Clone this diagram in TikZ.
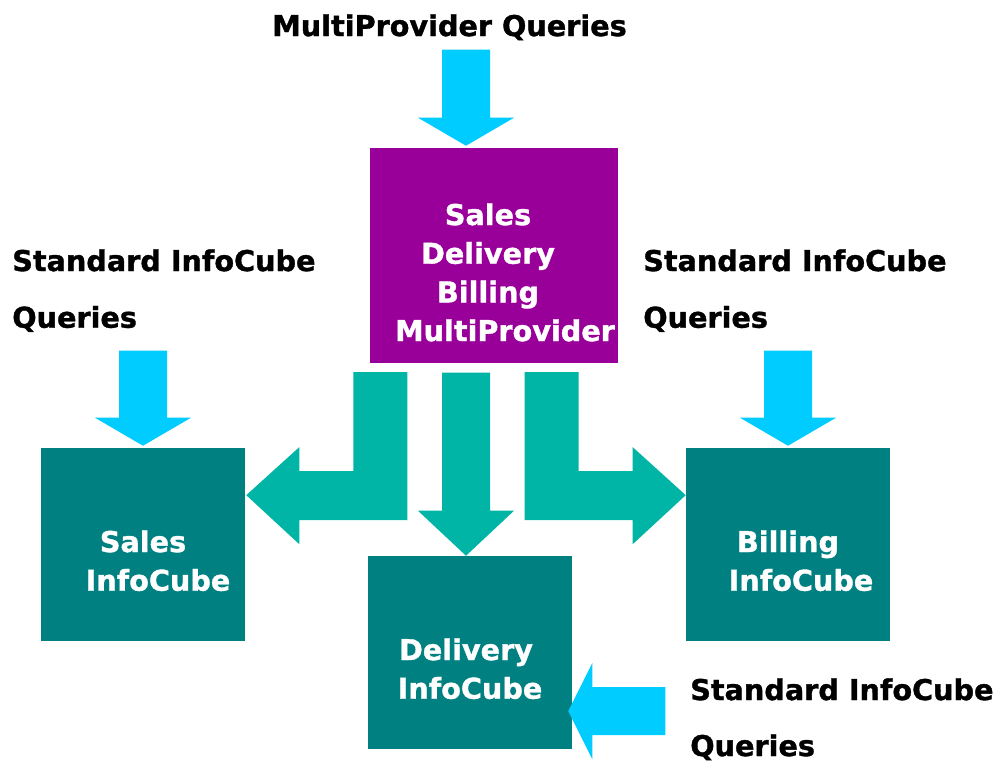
\documentclass[tikz,border=0pt]{standalone}
\usepackage{fontspec}
\setmainfont{DejaVu Sans}[BoldFeatures={FakeBold=1.2}]
\definecolor{mppurple}{HTML}{990099}
\definecolor{cubeteal}{HTML}{008080}
\definecolor{flowteal}{HTML}{00B5A5}
\definecolor{querycyan}{HTML}{00CCFF}
\begin{document}
\begin{tikzpicture}[x=0.75pt,y=-0.75pt,
    cube/.style={inner sep=0pt,fill=cubeteal,minimum width=153pt,minimum height=144.75pt},
    cubetxt/.style={inner sep=0pt,anchor=north,align=center,text=white,
                    font=\bfseries\fontsize{21.5}{29}\selectfont},
    qlabel/.style={inner sep=0pt,anchor=north west,align=left,
                   font=\bfseries\fontsize{21.5}{42.5}\selectfont},
    query/.style={fill=querycyan},
    flow/.style={fill=flowteal}]
  \useasboundingbox (0,0) rectangle (996,764);
  % provider boxes
  \node[cube,fill=mppurple,minimum width=186pt,minimum height=161.25pt] (mp) at (494,255.5) {};
  \node[cube] (sales) at (143,544.5) {};
  \node[cube] (deliv) at (470,652.5) {};
  \node[cube] (bill)  at (788,544.5) {};
  \node[cubetxt] (mptxt) at (488,203) {Sales\\Delivery\\Billing\\\hspace*{25.5pt}MultiProvider};
  \node[cubetxt] (salestxt) at (143,530) {Sales\\\hspace*{22.5pt}InfoCube};
  \node[cubetxt] (delivtxt) at (466,638) {Delivery\\\hspace*{6pt}InfoCube};
  \node[cubetxt] (billtxt)  at (788,530) {Billing\\\hspace*{19.5pt}InfoCube};
  % query labels
  \node[qlabel,anchor=north] (qmp) at (449.5,14) {MultiProvider Queries};
  \node[qlabel] (qsales) at (12,249)  {Standard InfoCube\\Queries};
  \node[qlabel] (qbill)  at (643,249) {Standard InfoCube\\Queries};
  \node[qlabel,font=\bfseries\fontsize{21.5}{42}\selectfont] (qdeliv) at (690,678) {Standard InfoCube\\Queries};
  % query arrows
  \fill[query] ([xshift=-21pt,yshift=1.5pt]mp.north) -- ++(-48,-28) -- ++(24,0) -- ++(0,-68)
      -- ++(48,0) -- ++(0,68) -- ++(24,0) -- cycle;
  \fill[query] ([yshift=1.5pt]sales.north) -- ++(-48,-28) -- ++(24,0) -- ++(0,-67)
      -- ++(48,0) -- ++(0,67) -- ++(24,0) -- cycle;
  \fill[query] ([yshift=1.5pt]bill.north) -- ++(-48,-28) -- ++(24,0) -- ++(0,-67)
      -- ++(48,0) -- ++(0,67) -- ++(24,0) -- cycle;
  \fill[query] ([xshift=-3pt,yshift=-44pt]deliv.east) -- ++(24,-48) -- ++(0,24) -- ++(73,0)
      -- ++(0,48) -- ++(-73,0) -- ++(0,24) -- cycle;
  % flows from the multiprovider
  \fill[flow] ([xshift=-3pt]deliv.north) -- ++(-48,-45) -- ++(24,0) -- ++(0,-138)
      -- ++(48,0) -- ++(0,138) -- ++(24,0) -- cycle;
  \fill[flow] ([xshift=0.75pt,yshift=37pt]sales.east) -- ++(53,-48) -- ++(0,24) -- ++(54,0)
      -- ++(0,-99) -- ++(54,0) -- ++(0,148) -- ++(-108,0) -- ++(0,24) -- cycle;
  \fill[flow] ([yshift=37pt]bill.west) -- ++(-53,-48) -- ++(0,24) -- ++(-54,0)
      -- ++(0,-99) -- ++(-54,0) -- ++(0,148) -- ++(108,0) -- ++(0,24) -- cycle;
\end{tikzpicture}
\end{document}
